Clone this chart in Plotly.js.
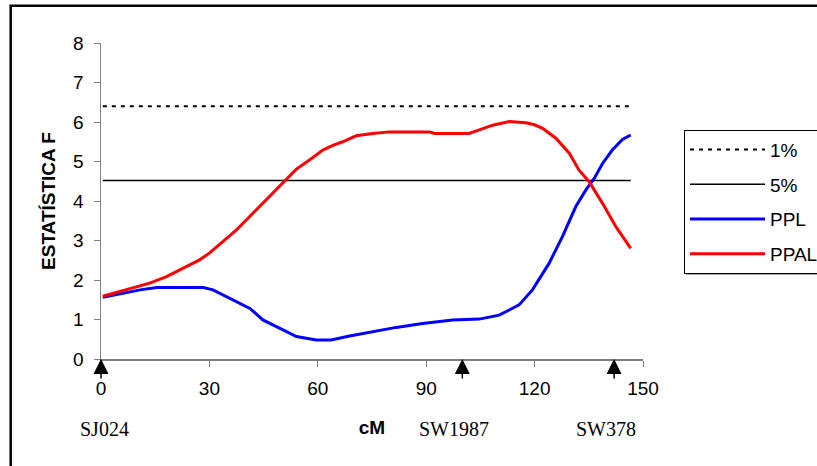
<!DOCTYPE html>
<html>
<head>
<meta charset="utf-8">
<script src="https://cdn.plot.ly/plotly-3.0.1.min.js"></script>
<style>html,body{margin:0;padding:0;background:#fff;}#chart{width:817px;height:466px;}</style>
</head>
<body>
<div id="chart"></div>
<script>
// PPAL (red) curve
const cmPPAL = [0.5, 5, 8, 13.5, 18, 22.7, 27.3, 30, 33.8, 37.5, 40, 43.9, 46.5, 49.4, 51.3, 54, 57.7, 61.4, 64, 66.9, 70.6, 75.2, 79.8, 85, 90.9, 92.3, 97, 101.9, 104.7, 108.4, 113, 117.6, 120, 122.2, 125.9, 129.6, 132.3, 135.1, 138.8, 142.5, 146.6];
const valPPAL = [1.59, 1.70, 1.79, 1.92, 2.08, 2.30, 2.51, 2.68, 2.97, 3.27, 3.50, 3.86, 4.10, 4.36, 4.53, 4.80, 5.04, 5.29, 5.40, 5.50, 5.65, 5.71, 5.75, 5.75, 5.75, 5.71, 5.71, 5.71, 5.80, 5.92, 6.01, 5.98, 5.93, 5.84, 5.59, 5.21, 4.78, 4.49, 3.94, 3.35, 2.80];
// PPL (blue) curve
const cmPPL = [0.5, 6.2, 10.8, 15.4, 28.3, 31, 36.5, 41.2, 44.8, 49.4, 54.1, 59.6, 63.7, 68.8, 75.2, 81.7, 89, 97.3, 104.7, 110.2, 115.7, 119.4, 124, 127.7, 131.4, 134.2, 136.5, 138.8, 141.5, 144.3, 146.6];
const valPPL = [1.56, 1.66, 1.75, 1.81, 1.81, 1.75, 1.49, 1.28, 0.99, 0.78, 0.57, 0.48, 0.48, 0.58, 0.69, 0.80, 0.90, 0.99, 1.01, 1.11, 1.37, 1.75, 2.42, 3.10, 3.86, 4.28, 4.57, 4.95, 5.29, 5.56, 5.67];
// significance thresholds
const thresholdNames = ["1%", "5%"];
const thresholdValues = [6.4, 4.52];
const thresholdSpan = [0.5, 146.6];
// markers
const markerNames = ["SJ024", "SW1987", "SW378"];
const markerPos = [0, 100, 142];
const markerLabelPos = [1.1, 97.8, 139.8];
// axis ticks
const xTicks = [0, 30, 60, 90, 120, 150];
const yTicks = [0, 1, 2, 3, 4, 5, 6, 7, 8];

const SANS = '"Liberation Sans", Arial, sans-serif';
const SERIF = '"Liberation Serif", "Times New Roman", serif';

const traces = [
  {x: thresholdSpan, y: [thresholdValues[0], thresholdValues[0]], name: thresholdNames[0], legendgroup: 'a',
   mode: 'lines', line: {color: '#000', width: 2, dash: '4px,5px'}},
  {x: thresholdSpan, y: [thresholdValues[1], thresholdValues[1]], name: thresholdNames[1], legendgroup: 'b',
   mode: 'lines', line: {color: '#000', width: 1.5}},
  {x: cmPPL, y: valPPL, name: 'PPL', legendgroup: 'c', mode: 'lines', line: {color: '#0000FF', width: 3}},
  {x: cmPPAL, y: valPPAL, name: 'PPAL', legendgroup: 'd', mode: 'lines', line: {color: '#FF0000', width: 3}}
];

const annotations = [];
markerNames.forEach((n, i) => {
  annotations.push({x: markerPos[i], y: 0, xref: 'x', yref: 'y', text: '', showarrow: true,
    ax: 0, ay: 21, arrowhead: 2, arrowsize: 2, arrowwidth: 1.5, arrowcolor: '#000'});
  annotations.push({x: markerLabelPos[i], y: 0, xref: 'x', yref: 'y', yshift: -70, text: n, showarrow: false,
    font: {family: SERIF, size: 20, color: '#000'}, xanchor: 'center', yanchor: 'middle'});
});

const layout = {
  width: 817, height: 466,
  margin: {l: 101, r: 174, t: 43, b: 107},
  paper_bgcolor: '#fff', plot_bgcolor: '#fff',
  font: {family: SANS, size: 19, color: '#000'},
  showlegend: true,
  legend: {xref: 'container', x: 684 / 817, y: 0.7254, xanchor: 'left', yanchor: 'top', bgcolor: '#fff',
    bordercolor: '#000', borderwidth: 1, font: {family: SANS, size: 19, color: '#000'},
    itemwidth: 75, traceorder: 'grouped', tracegroupgap: 7},
  xaxis: {range: [0, 150], tickvals: xTicks, ticktext: xTicks.map(String), showgrid: false, zeroline: false,
    showline: true, linecolor: '#808080', linewidth: 1.5, ticks: 'outside', ticklen: 6, tickcolor: '#808080',
    ticklabelstandoff: 6, tickfont: {size: 19},
    title: {text: '<b>cM</b>', font: {size: 19}, standoff: 22}},
  yaxis: {range: [0, 8], tickvals: yTicks, showgrid: false, zeroline: false,
    showline: true, linecolor: '#808080', linewidth: 1.5, ticks: 'outside', ticklen: 6, tickcolor: '#808080',
    ticklabelstandoff: 6, tickfont: {size: 19},
    title: {text: '<b>ESTATÍSTICA F</b>', font: {size: 19}, standoff: 12}},
  annotations: annotations,
  shapes: [
    {type: 'rect', xref: 'paper', yref: 'paper', x0: -0.1666, x1: 1.36, y0: -0.36, y1: 1.118,
     line: {color: '#000', width: 2.5}, fillcolor: 'rgba(0,0,0,0)', layer: 'below'},
    {type: 'line', xref: 'paper', yref: 'paper', x0: 1.0793, x1: 1.4, y0: 0.2692, y1: 0.2692,
     line: {color: '#888888', width: 1.5}, layer: 'above'}
  ]
};

Plotly.newPlot('chart', traces, layout, {displayModeBar: false, staticPlot: true});
</script>
</body>
</html>
